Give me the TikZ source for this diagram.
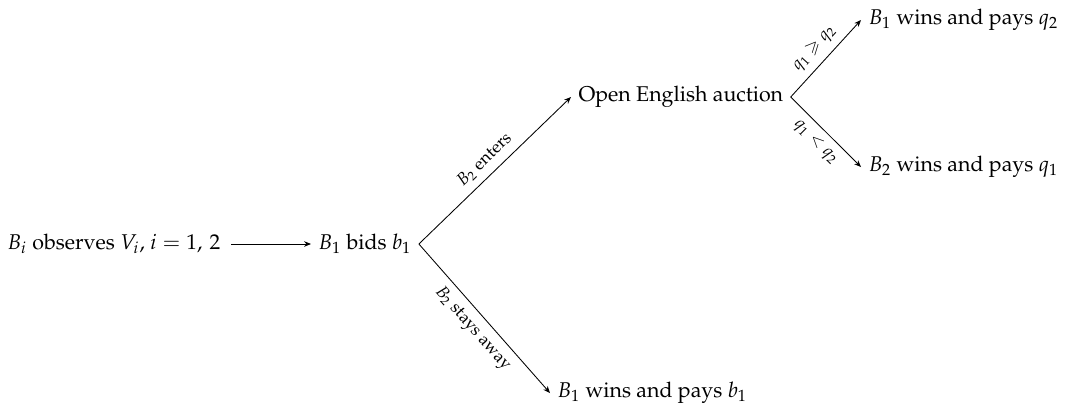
\documentclass[tikz,border=0pt]{standalone}
\usepackage[T1]{fontenc}
\usepackage{mathpazo}
\usepackage{amssymb}
\usetikzlibrary{arrows.meta}
\begin{document}
\begin{tikzpicture}[x=0.468pt,y=-0.468pt,
  txt/.style={anchor=west,inner sep=3.33pt},
  lbl/.style={font=\footnotesize,sloped,midway},
  arr/.style={-{Stealth[length=3.2pt,width=2.6pt,inset=1pt]},line width=0.4pt}]
\useasboundingbox (0,0) rectangle (1073,412);
\node[txt] (obs) at (0,244) {$B_i$ observes $V_i$, $i=1$,\,\,$2$};
\node[txt] (bids) at (311,244) {$B_1$ bids $b_1$};
\node[txt] (oea) at (571,97) {Open English auction};
\node[txt] (r3) at (550,393) {$B_1$ wins and pays $b_1$};
\node[txt] (r1) at (861,20) {$B_1$ wins and pays $q_2$};
\node[txt] (r2) at (861,167) {$B_2$ wins and pays $q_1$};
\draw[arr,shorten <=1.5pt] (obs) -- (bids);
\draw[arr] (bids.east) -- node[lbl,above] {$B_2$ enters} (oea.west);
\draw[arr] (bids.east) -- node[lbl,below] {$B_2$ stays away} (r3.west);
\draw[arr] (oea.east) -- node[lbl,above] {$q_1\geqslant q_2$} (r1.west);
\draw[arr] (oea.east) -- node[lbl,below] {$q_1<q_2$} (r2.west);
\end{tikzpicture}
\end{document}
